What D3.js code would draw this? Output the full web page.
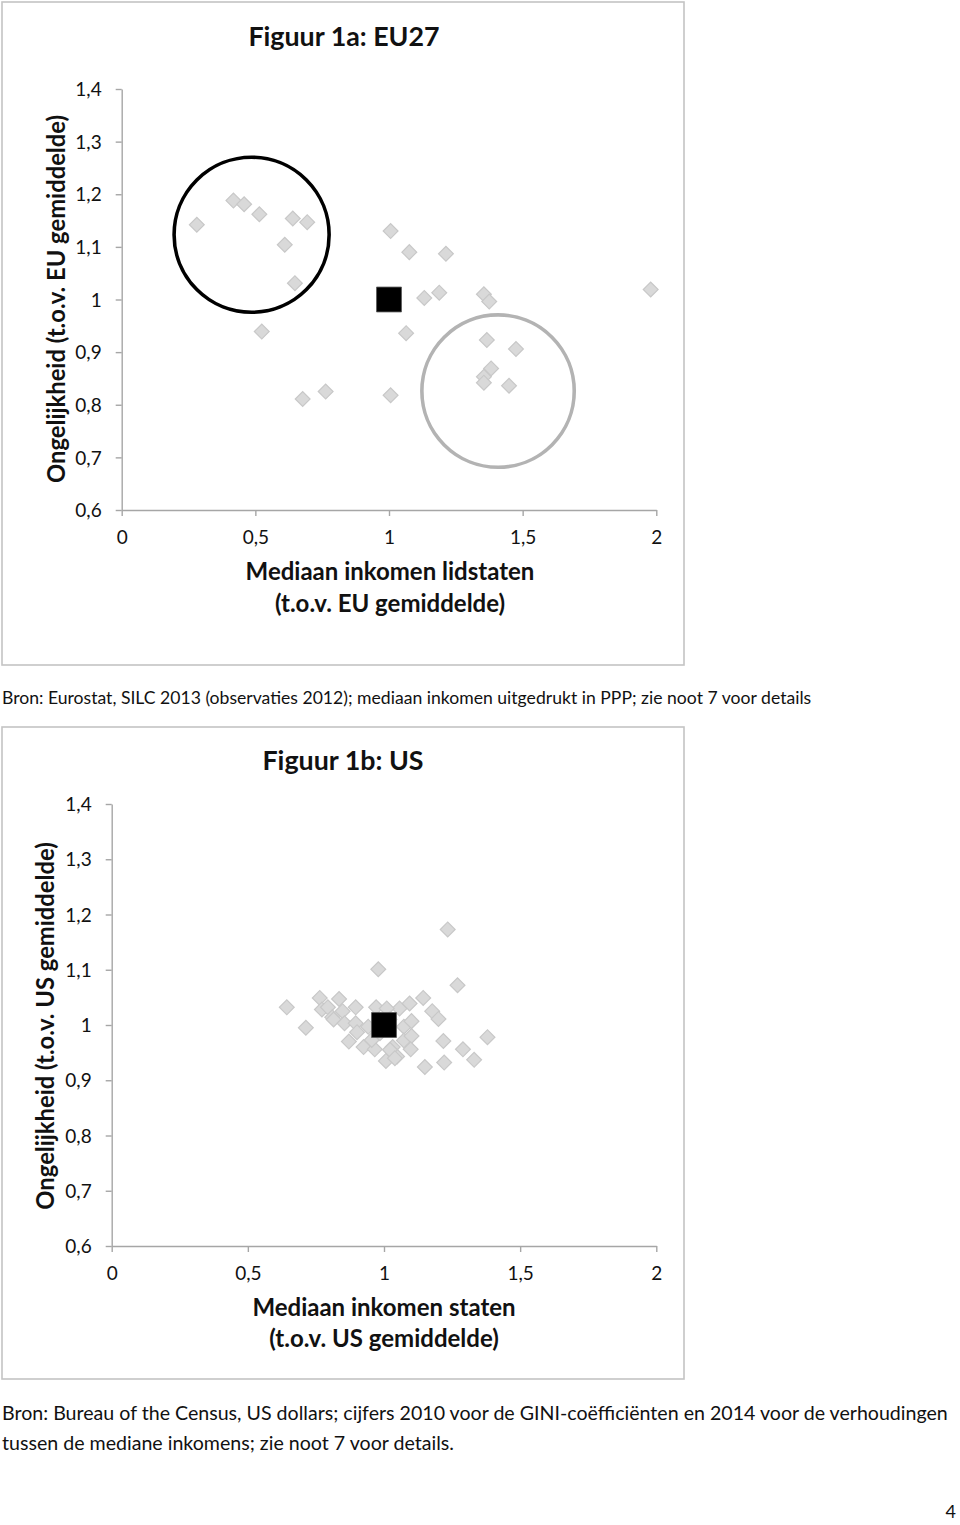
<!DOCTYPE html>
<html><head><meta charset="utf-8">
<script src="https://cdn.jsdelivr.net/npm/d3@7"></script>
<style>
body{margin:0;background:#fff}
svg{display:block}
text{font-family:Lato,"Open Sans",sans-serif;fill:#111}
</style>
</head><body>
<svg id="c" width="960" height="1525"></svg>
<script>
// ---------- data ----------
const xTicks = [0, 0.5, 1, 1.5, 2];
const xTickLabels = ["0", "0,5", "1", "1,5", "2"];
const yTicks = [0.6, 0.7, 0.8, 0.9, 1.0, 1.1, 1.2, 1.3, 1.4];
const yTickLabels = ["0,6", "0,7", "0,8", "0,9", "1", "1,1", "1,2", "1,3", "1,4"];

// Figuur 1a: EU27 member states (median income, inequality, relative to EU average)
const euIncome = [0.281, 0.418, 0.458, 0.515, 0.640, 0.694, 0.610, 0.648, 0.524, 0.677, 0.763,
  1.006, 1.076, 1.213, 1.132, 1.188, 1.355, 1.375, 1.979, 1.064, 1.366, 1.475, 1.382, 1.355, 1.355, 1.449, 1.006];
const euInequality = [1.142, 1.188, 1.181, 1.162, 1.154, 1.147, 1.104, 1.031, 0.939, 0.811, 0.825,
  1.130, 1.090, 1.087, 1.003, 1.013, 1.010, 0.996, 1.019, 0.936, 0.923, 0.906, 0.869, 0.853, 0.842, 0.836, 0.818];
const euAverage = {income: 1, inequality: 1};
// highlighted groups (circle centres and radius, in x-axis units)
const circleIncome = [0.486, 1.408];
const circleInequality = [1.123, 0.826];
const circleRadius = [0.290, 0.285];

// Figuur 1b: US states
const usIncome = [0.643, 0.713, 0.764, 0.772, 0.794, 0.810, 0.815, 0.835, 0.848, 0.855, 0.896, 0.896, 0.901,
  0.871, 0.925, 0.979, 0.971, 0.966, 1.007, 1.032, 1.048, 1.057, 1.073, 1.073, 1.094, 1.101, 1.101, 1.098,
  1.144, 1.177, 1.200, 1.218, 1.221, 1.234, 1.270, 1.290, 1.331, 1.380, 1.150,
  0.942, 0.955, 1.022, 1.040, 1.010, 0.985, 1.020];
const usInequality = [1.032, 0.995, 1.049, 1.028, 1.032, 1.014, 1.010, 1.047, 1.025, 1.003, 1.032, 1.003, 0.987,
  0.970, 0.960, 1.101, 1.032, 0.956, 0.935, 0.960, 0.943, 1.030, 0.997, 0.972, 1.039, 1.007, 0.980, 0.956,
  1.049, 1.025, 1.011, 0.971, 0.932, 1.173, 1.072, 0.956, 0.937, 0.978, 0.924,
  0.997, 0.973, 0.955, 0.940, 1.030, 0.985, 1.010];
const usAverage = {income: 1, inequality: 1};

// ---------- drawing ----------
const svg = d3.select("#c");

function panel(cfg) {
  const g = svg.append("g");
  g.append("rect").attr("x", cfg.frame[0]).attr("y", cfg.frame[1])
    .attr("width", cfg.frame[2] - cfg.frame[0]).attr("height", cfg.frame[3] - cfg.frame[1])
    .attr("fill", "none").attr("stroke", "#c4c4c4").attr("stroke-width", 1.6);

  const x = d3.scaleLinear().domain([0, 2]).range(cfg.xr);
  const y = d3.scaleLinear().domain([0.6, 1.4]).range(cfg.yr);

  const ax = g.append("g").attr("transform", `translate(0,${cfg.yr[0]})`)
    .call(d3.axisBottom(x).tickValues(xTicks).tickFormat((d, i) => xTickLabels[i]).tickSize(6).tickSizeOuter(0));
  const ay = g.append("g").attr("transform", `translate(${cfg.xr[0]},0)`)
    .call(d3.axisLeft(y).tickValues(yTicks).tickFormat((d, i) => yTickLabels[i]).tickSize(6).tickSizeOuter(0));
  [ax, ay].forEach(a => {
    a.selectAll("path.domain").attr("stroke", "#a6a6a6").attr("stroke-width", 1.4);
    a.selectAll(".tick line").attr("stroke", "#a6a6a6").attr("stroke-width", 1.4);
    a.selectAll(".tick text").style("font-size", "19px").attr("fill", "#111").style("font-family", "Lato");
  });
  ax.selectAll(".tick text").attr("y", 27).attr("dy", "0.35em");
  ay.selectAll(".tick text").attr("x", -20).attr("dy", "0.35em");

  g.append("text").attr("x", cfg.title[1]).attr("y", cfg.title[2]).attr("text-anchor", "middle")
    .attr("dy", "0.35em").style("font-size", "26.8px").style("font-weight", "bold").text(cfg.title[0]);
  cfg.xTitle.forEach((t, i) => {
    g.append("text").attr("x", cfg.xTitlePos[0]).attr("y", cfg.xTitlePos[1] + i * cfg.xTitlePos[2])
      .attr("text-anchor", "middle").attr("dy", "0.35em")
      .style("font-size", "24px").style("font-weight", "bold").text(t);
  });
  g.append("text").attr("transform", `translate(${cfg.yTitlePos[0]},${cfg.yTitlePos[1]}) rotate(-90)`)
    .attr("text-anchor", "middle").attr("dy", "0.35em")
    .style("font-size", "23.8px").style("font-weight", "bold").text(cfg.yTitle);

  const diamond = d3.symbol().type(d3.symbolSquare).size(110);
  g.append("g").selectAll("path").data(cfg.xs.map((v, i) => [v, cfg.ys[i]])).join("path")
    .attr("d", diamond)
    .attr("transform", d => `translate(${x(d[0])},${y(d[1])}) rotate(45)`)
    .attr("fill", "#d9d9d9").attr("stroke", "#c8c8c8").attr("stroke-width", 1.2);

  g.append("path").attr("d", d3.symbol().type(d3.symbolSquare).size(620)())
    .attr("transform", `translate(${x(cfg.avg.income)},${y(cfg.avg.inequality)})`)
    .attr("fill", "#000").attr("stroke", "#555").attr("stroke-width", 0.8);

  return {g, x, y};
}

const panelEU = panel({
  frame: [2, 2, 684, 665],
  xr: [121.7, 656.3], yr: [510, 89],
  title: ["Figuur 1a: EU27", 344, 37],
  xTitle: ["Mediaan inkomen lidstaten", "(t.o.v. EU gemiddelde)"], xTitlePos: [390, 572, 32],
  yTitle: "Ongelijkheid (t.o.v. EU gemiddelde)", yTitlePos: [57, 299],
  xs: euIncome, ys: euInequality, avg: euAverage
});

const circleColors = ["#000", "#b3b3b3"];
circleIncome.forEach((cx, i) => {
  panelEU.g.append("circle")
    .attr("cx", panelEU.x(cx)).attr("cy", panelEU.y(circleInequality[i]))
    .attr("r", panelEU.x(circleRadius[i]) - panelEU.x(0))
    .attr("fill", "none").attr("stroke", circleColors[i]).attr("stroke-width", 3.6);
});

panel({
  frame: [2, 727, 684, 1379],
  xr: [111.7, 656.3], yr: [1246, 804],
  title: ["Figuur 1b: US", 343, 761],
  xTitle: ["Mediaan inkomen staten", "(t.o.v. US gemiddelde)"], xTitlePos: [384, 1308, 31],
  yTitle: "Ongelijkheid (t.o.v. US gemiddelde)", yTitlePos: [46, 1026],
  xs: usIncome, ys: usInequality, avg: usAverage
});

svg.append("text").attr("x", 2).attr("y", 698).attr("dy", "0.35em").style("font-size", "17.6px")
  .text("Bron: Eurostat, SILC 2013 (observaties 2012); mediaan inkomen uitgedrukt in PPP; zie noot 7 voor details");
svg.append("text").attr("x", 2).attr("y", 1413).attr("dy", "0.35em").style("font-size", "19.6px")
  .text("Bron: Bureau of the Census, US dollars; cijfers 2010 voor de GINI-coëfficiënten en 2014 voor de verhoudingen");
svg.append("text").attr("x", 2).attr("y", 1443).attr("dy", "0.35em").style("font-size", "19.6px")
  .text("tussen de mediane inkomens; zie noot 7 voor details.");
svg.append("text").attr("x", 956).attr("y", 1512).attr("dy", "0.35em").attr("text-anchor", "end").style("font-size", "18px")
  .text("4");
</script>
</body></html>
